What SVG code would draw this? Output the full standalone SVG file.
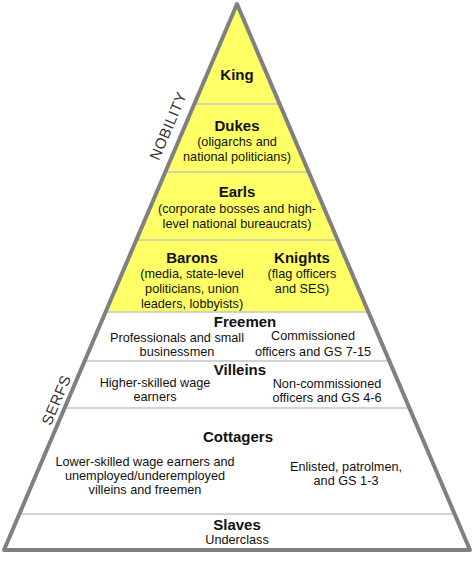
<svg xmlns="http://www.w3.org/2000/svg" width="474" height="564" viewBox="0 0 474 564">
<style>
.t{font-family:"Liberation Sans",Arial,sans-serif;font-size:15px;font-weight:bold;fill:#111;text-anchor:middle}
.b{font-family:"Liberation Sans",Arial,sans-serif;font-size:12.7px;fill:#111;text-anchor:middle}
.s{font-family:"Liberation Sans",Arial,sans-serif;font-size:15px;fill:#333;text-anchor:middle;letter-spacing:0.5px}
.sep{stroke:#c4c4c4;stroke-width:1.5}
</style>
<rect width="474" height="564" fill="#fff"/>
<polygon points="237,3 367.8,312 106.2,312" fill="#ffff66"/>
<g id="connectors">
<line class="sep" x1="194.2" y1="104" x2="279.8" y2="104"/>
<line class="sep" x1="165.4" y1="172" x2="308.6" y2="172"/>
<line class="sep" x1="136.7" y1="240" x2="337.3" y2="240"/>
<line class="sep" x1="106.2" y1="312" x2="367.8" y2="312"/>
<line class="sep" x1="85.4" y1="361" x2="388.6" y2="361"/>
<line class="sep" x1="65.5" y1="408" x2="408.5" y2="408"/>
<line class="sep" x1="20.6" y1="514" x2="453.4" y2="514"/>
</g>
<polygon points="237,4 470,550 4,550" fill="none" stroke="#808080" stroke-width="4" stroke-linejoin="round"/>
<g id="king"><text class="t" x="237" y="80">King</text></g>
<g id="dukes"><text class="t" x="237" y="131">Dukes</text>
<text class="b" x="237" y="146">(oligarchs and</text>
<text class="b" x="237" y="161">national politicians)</text></g>
<g id="earls"><text class="t" x="237" y="197">Earls</text>
<text class="b" x="237" y="213">(corporate bosses and high-</text>
<text class="b" x="237" y="228">level national bureaucrats)</text></g>
<g id="barons"><text class="t" x="192" y="263">Barons</text>
<text class="b" x="192" y="278">(media, state-level</text>
<text class="b" x="192" y="293">politicians, union</text>
<text class="b" x="192" y="308">leaders, lobbyists)</text></g>
<g id="knights"><text class="t" x="302" y="263">Knights</text>
<text class="b" x="302" y="278">(flag officers</text>
<text class="b" x="302" y="293">and SES)</text></g>
<g id="freemen"><text class="t" x="245" y="327">Freemen</text>
<text class="b" x="177" y="342">Professionals and small</text>
<text class="b" x="177" y="356">businessmen</text>
<text class="b" x="313" y="340">Commissioned</text>
<text class="b" x="313" y="356">officers and GS 7-15</text></g>
<g id="villeins"><text class="t" x="240" y="375">Villeins</text>
<text class="b" x="155" y="387">Higher-skilled wage</text>
<text class="b" x="155" y="401">earners</text>
<text class="b" x="327" y="388">Non-commissioned</text>
<text class="b" x="327" y="402">officers and GS 4-6</text></g>
<g id="cottagers"><text class="t" x="238" y="442">Cottagers</text>
<text class="b" x="145" y="466">Lower-skilled wage earners and</text>
<text class="b" x="145" y="480">unemployed/underemployed</text>
<text class="b" x="145" y="494">villeins and freemen</text>
<text class="b" x="346" y="471">Enlisted, patrolmen,</text>
<text class="b" x="346" y="485">and GS 1-3</text></g>
<g id="slaves"><text class="t" x="237" y="530">Slaves</text>
<text class="b" x="237" y="544">Underclass</text></g>
<g id="nobility"><text class="s" transform="translate(173,128) rotate(-67)">NOBILITY</text></g>
<g id="serfs"><text class="s" transform="translate(61,402) rotate(-67)">SERFS</text></g>
</svg>
